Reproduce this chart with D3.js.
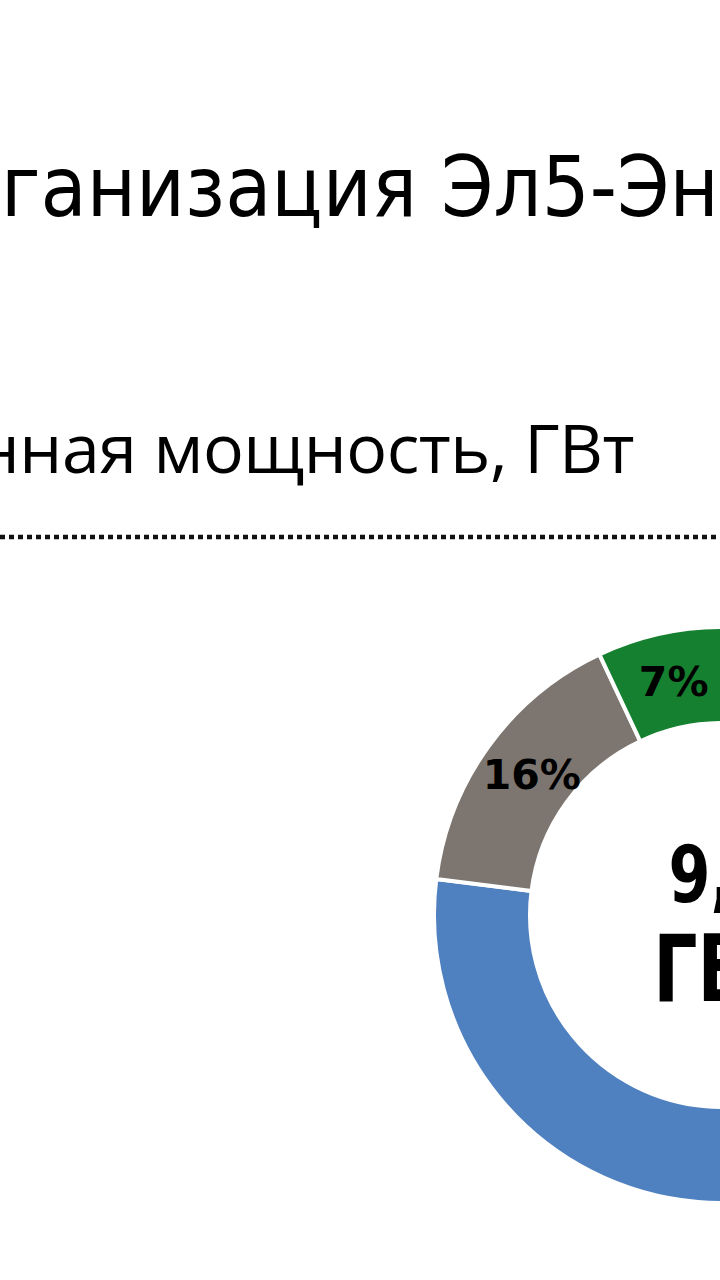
<!DOCTYPE html>
<html><head><meta charset="utf-8">
<script src="https://cdn.jsdelivr.net/npm/d3@7"></script>
<style>html,body{margin:0;padding:0;background:#fff;overflow:hidden}</style>
</head><body>
<svg id="c" width="720" height="1280"></svg>
<script>
const titleText = "Организация Эл5-Энерго";
const subtitleText = "Установленная мощность, ГВт";
const categories = ["Газ", "Уголь", "ВИЭ"];
const shares = [77, 16, 7];
const colors = ["#4f81c0", "#7d7670", "#15802f"];
const centerValue = "9,4";
const centerUnit = "ГВт";

const svg = d3.select("#c");
svg.append("rect").attr("width",720).attr("height",1280).attr("fill","#fff");

// title (cropped at left)
const t = svg.append("text").attr("y",216)
  .attr("font-family","'DejaVu Sans Condensed','DejaVu Sans',sans-serif")
  .attr("font-size",92).attr("fill","#000").text(titleText);
{
  const node = t.node();
  const vis = node.getSubStringLength(2,16);
  const fs = 92*718/vis;
  t.attr("font-size",fs);
  const pre2 = node.getSubStringLength(0,2);
  t.attr("x",-pre2+1);
}

// subtitle (right-aligned, cropped at left)
svg.append("text").attr("x",634).attr("y",473).attr("text-anchor","end")
  .attr("font-family","'Open Sans',sans-serif").attr("font-size",68)
  .attr("letter-spacing",-0.5)
  .attr("fill","#000").text(subtitleText);

// dotted rule
svg.append("line").attr("x1",0).attr("x2",720).attr("y1",537).attr("y2",537)
  .attr("stroke","#111").attr("stroke-width",4.5).attr("stroke-dasharray","5,4");

// donut
const cx = 722, cy = 915, rOut = 288, rIn = 192;
const g = svg.append("g").attr("transform",`translate(${cx},${cy})`);
const pie = d3.pie().sort(null).value(d=>d);
const arcs = pie(shares);
const arc = d3.arc().innerRadius(rIn).outerRadius(rOut);
g.selectAll("path").data(arcs).join("path")
  .attr("d",arc).attr("fill",(d,i)=>colors[i])
  .attr("stroke","#fff").attr("stroke-width",4);

const labelArc = d3.arc().innerRadius((rIn+rOut)/2).outerRadius((rIn+rOut)/2);
g.selectAll("text.pct").data(arcs).join("text").attr("class","pct")
  .attr("transform",d=>{const c=labelArc.centroid(d);return `translate(${c[0]+4},${c[1]})`;})
  .attr("text-anchor","middle").attr("dy","0.36em")
  .attr("font-family","'DejaVu Sans',sans-serif").attr("font-weight","bold")
  .attr("font-size",41).attr("fill","#000")
  .text(d=>d.data+"%");

g.append("text").attr("text-anchor","middle")
  .attr("transform","translate(0,-13) scale(0.86,1)")
  .attr("font-family","'DejaVu Sans Condensed',sans-serif").attr("font-weight","bold")
  .attr("font-size",78).attr("fill","#000").text(centerValue);
g.append("text").attr("text-anchor","middle")
  .attr("transform","translate(0,86) scale(0.84,1)")
  .attr("font-family","'DejaVu Sans Condensed',sans-serif").attr("font-weight","bold")
  .attr("font-size",92).attr("fill","#000").text(centerUnit);
</script>
</body></html>
